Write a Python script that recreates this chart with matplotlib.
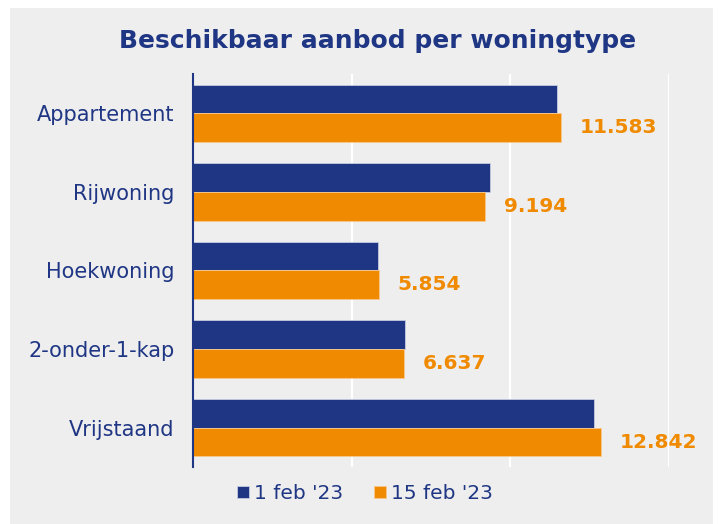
import numpy as np
import matplotlib.pyplot as plt
from matplotlib.patches import Rectangle

# DATA
categories = ["Appartement", "Rijwoning", "Hoekwoning", "2-onder-1-kap", "Vrijstaand"]
feb_1 = [11457, 9367, 5823, 6692, 12641]
feb_15 = [11583, 9194, 5854, 6637, 12842]
series_names = ["1 feb '23", "15 feb '23"]

# COLOURS
NAVY = "#1f3684"
ORANGE = "#f08a00"
BG = "#eeeeee"

plt.rcParams['font.family'] = ['DejaVu Sans']

fig = plt.figure(figsize=(7.2, 5.24), dpi=100)

# grey panel behind the chart (runs off the bottom edge)
panel = Rectangle((10 / 720, 0), 703 / 720, 1 - 8 / 524,
                  transform=fig.transFigure, facecolor=BG,
                  edgecolor="none", zorder=-10)
fig.patches.append(panel)

ax = fig.add_axes([0.2676, 0.1088, 0.662, 0.75])
ax.patch.set_alpha(0)

y = np.arange(len(categories))
h = 0.365

ax.barh(y - h / 2, feb_1, height=h, color=NAVY, edgecolor="#c5cbe0",
        linewidth=0.6, label=series_names[0], zorder=3)
ax.barh(y + h / 2, feb_15, height=h, color=ORANGE, edgecolor="#f7c98a",
        linewidth=0.6, label=series_names[1], zorder=3)

# value labels on the orange bars
for yi, v in zip(y, feb_15):
    ax.text(v + 600, yi + h / 2, f"{v:,}".replace(",", "."), va="center",
            ha="left", color=ORANGE, fontsize=14.5, fontweight="bold")

ax.set_xlim(0, 15000)
ax.set_ylim(4.5, -0.5)
ax.set_xticks([5000, 10000, 15000])
ax.set_xticklabels([])
ax.tick_params(axis="x", length=0)
ax.tick_params(axis="y", length=0, pad=13, labelsize=15, labelcolor=NAVY)
ax.set_yticks(y)
ax.set_yticklabels(categories)
ax.grid(axis="x", color="white", linewidth=1.6, zorder=0)

for s in ["top", "right", "bottom"]:
    ax.spines[s].set_visible(False)
ax.spines["left"].set_color(NAVY)
ax.spines["left"].set_linewidth(1.5)
ax.spines["left"].set_zorder(4)

fig.text(0.524, 0.922, "Beschikbaar aanbod per woningtype", ha="center",
         va="center", color=NAVY, fontsize=18, fontweight="bold")

leg = fig.legend(loc="center", bbox_to_anchor=(0.507, 0.058), ncol=2,
                 frameon=False, fontsize=14.5, handlelength=0.6,
                 handleheight=0.6, handletextpad=0.25, columnspacing=1.5)
for t in leg.get_texts():
    t.set_color(NAVY)

fig.savefig("out.png", dpi=100, facecolor="white")
